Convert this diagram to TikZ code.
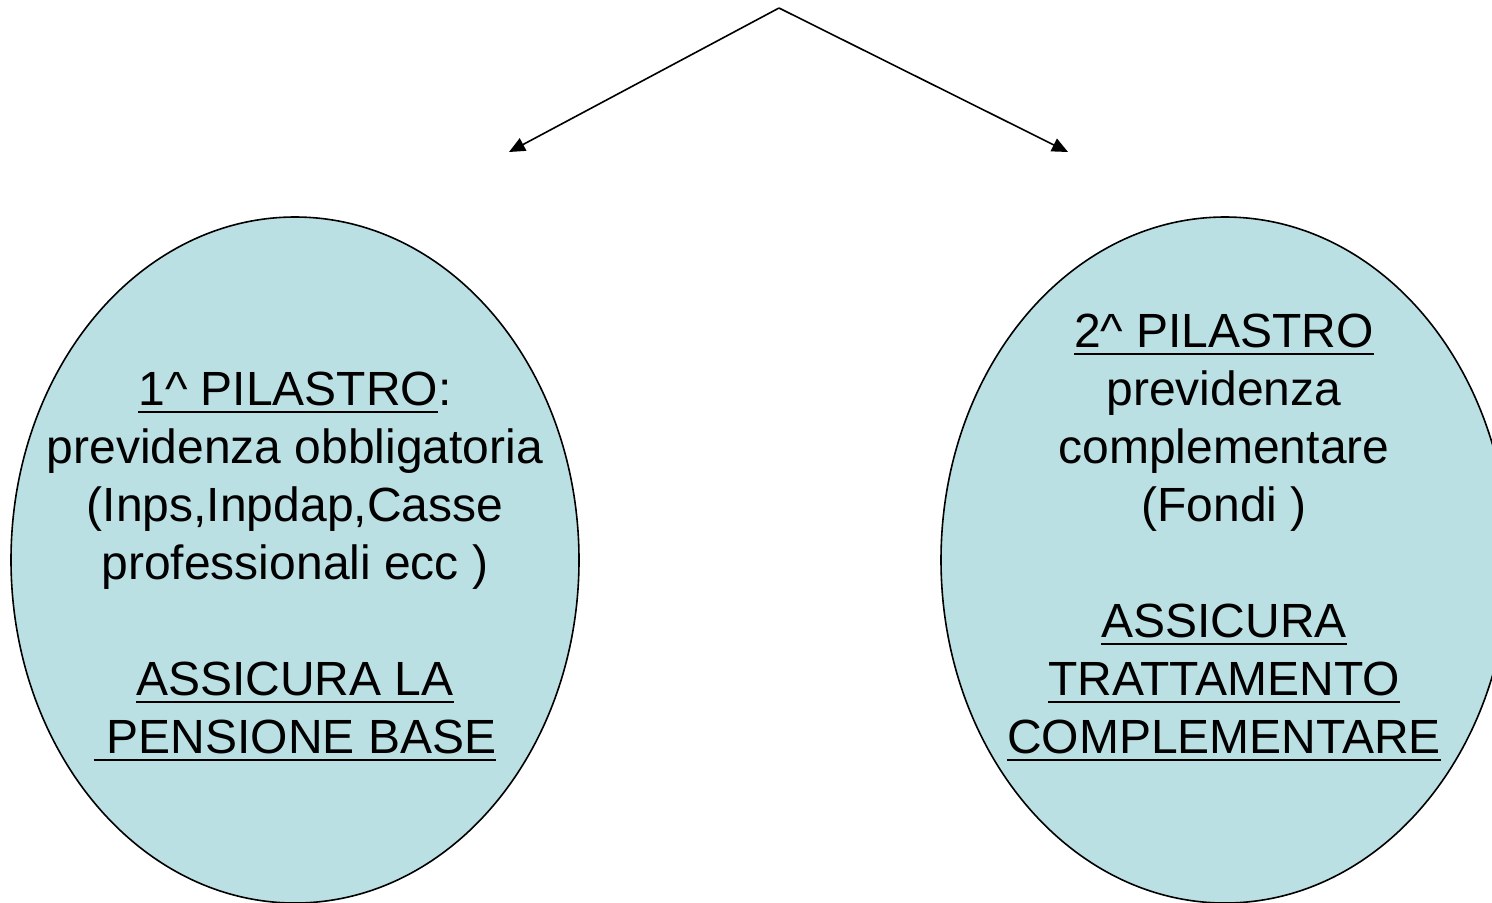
\documentclass[tikz,border=0pt]{standalone}
\usepackage{fontspec}
\setmainfont{Liberation Sans}
\usetikzlibrary{shapes.geometric,arrows.meta}
\definecolor{pillar}{RGB}{187,224,227}
\newcommand\myul[1]{\leavevmode\setbox0=\hbox{#1}\rlap{\rule[-4pt]{\wd0}{1.4pt}}\box0}
\newcommand\firstline{\rule{0pt}{20pt}}
\tikzset{
  pillarshape/.style={ellipse, draw=black, line width=0.8pt, fill=pillar,
    minimum width=284pt, minimum height=343pt, inner sep=0pt},
  pillartext/.style={anchor=north, align=center, inner sep=0pt,
    font=\fontsize{24}{29}\selectfont},
  branch/.style={line width=0.8pt, -{Triangle[length=8pt,width=7pt]}}
}
\begin{document}
\begin{tikzpicture}[x=0.5pt,y=-0.5pt]
\useasboundingbox (0,0) rectangle (1492,902);
\clip (0,0) rectangle (1492,902);
\node[pillarshape] (L) at (295,560) {};
\node[pillarshape] (R) at (1225,560) {};
\node[pillartext] (Ltext) at (295,365) {\firstline\myul{1\textasciicircum{} PILASTRO}:\\
previdenza obbligatoria\\
(Inps,Inpdap,Casse\\
professionali ecc )\\[29pt]
\myul{ASSICURA LA}\\
\myul{\ PENSIONE BASE}};
\node[pillartext] (Rtext) at (1224,307) {\firstline\myul{2\textasciicircum{} PILASTRO}\\
previdenza\\
complementare\\
(Fondi )\\[29pt]
\myul{ASSICURA}\\
\myul{TRATTAMENTO}\\
\myul{COMPLEMENTARE}};
\coordinate (apex) at (779,8);
\coordinate (tipL) at (509,152);
\coordinate (tipR) at (1068,152);
\draw[branch] (apex) -- (tipL);
\draw[branch] (apex) -- (tipR);
\end{tikzpicture}
\end{document}
